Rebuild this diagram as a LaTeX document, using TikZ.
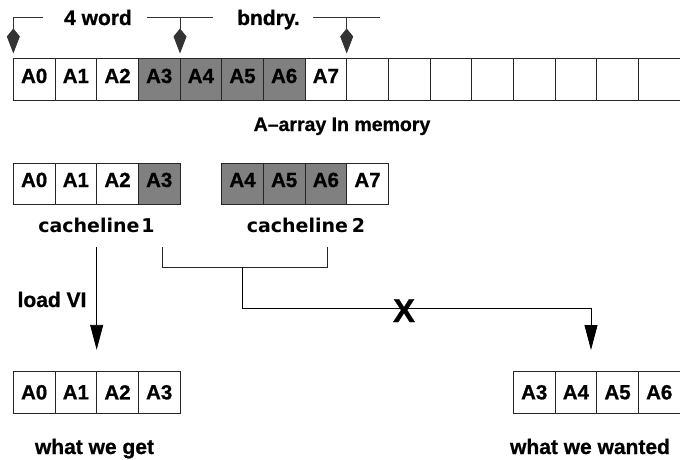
\documentclass[tikz,border=0pt]{standalone}
\usepackage{fontspec}
\setmainfont{Liberation Sans}[BoldFeatures={FakeBold=0.8}]
\newfontfamily\humfont{DejaVu Sans}
\newfontfamily\humboldfont{DejaVu Sans Bold}
\usetikzlibrary{arrows.meta}
\begin{document}
\begin{tikzpicture}[x=1pt,y=-1pt,
  cell/.style={draw=black!85, line width=0.9pt, minimum width=41.67pt, minimum height=42pt,
    inner sep=0pt, outer sep=0pt, font=\fontsize{20.5}{24}\bfseries},
  upcell/.style={cell, text height=15pt, text depth=8pt},
  graycell/.style={fill=gray},
  lbl/.style={font=\fontsize{21}{24}\bfseries, inner sep=0pt, anchor=base},
  hum/.style={font=\fontsize{19}{22}\humboldfont, inner sep=0pt, anchor=base},
  brk/.style={draw=black!80, line width=0.9pt},
  kite/.style={brk, -{Kite[length=25pt,width=13pt,inset=8pt]}},
  tri/.style={draw=black, line width=0.9pt, -{Triangle[length=25pt,width=13pt]}},
  conn/.style={draw=black!85, line width=0.9pt}]
\useasboundingbox (0,0) rectangle (680,460);
\fill[white] (0,0) rectangle (680,460);

% top array in memory
\foreach \i in {0,...,15}{
  \pgfmathsetmacro{\cx}{34.17+41.67*\i}
  \ifnum\i<8
    \ifnum\i>2 \ifnum\i<7
      \node[upcell,graycell] (m\i) at (\cx,79.5) {A\i};
    \else
      \node[upcell] (m\i) at (\cx,79.5) {A\i};
    \fi\else
      \node[upcell] (m\i) at (\cx,79.5) {A\i};
    \fi
  \else
    \node[upcell] (m\i) at (\cx,79.5) {};
  \fi
}

% boundary bracket
\node[lbl] (word) at (98,25) {4 word};
\node[lbl] (bnd) at (268.5,25) {bndry.};
\coordinate (t0) at (m0.north west |- 0,17);
\coordinate (t1) at (m3.north east |- 0,17);
\coordinate (t2) at (m7.north east |- 0,17);
\coordinate (l0) at (43,17);
\coordinate (l1a) at (147,17);
\coordinate (l1b) at (213,17);
\coordinate (l2a) at (313,17);
\coordinate (l2b) at (380,17);
\draw[brk] (l0) -- (t0);
\draw[brk] (l1a) -- (l1b);
\draw[brk] (l2a) -- (l2b);
\draw[kite] (t0) -- ([yshift=5pt]m0.north west);
\draw[kite] (t1) -- ([yshift=5pt]m3.north east);
\draw[kite] (t2) -- ([yshift=5pt]m7.north east);

\node[lbl,font=\fontsize{19.5}{22}\bfseries] (arr) at (342,131) {A--array In memory};

% cache lines
\foreach \i in {0,...,3}{
  \pgfmathsetmacro{\cx}{34.17+41.67*\i}
  \ifnum\i=3
    \node[upcell,graycell,minimum height=41pt] (c\i) at (\cx,183.5) {A\i};
  \else
    \node[upcell,minimum height=41pt] (c\i) at (\cx,183.5) {A\i};
  \fi
}
\foreach \i in {4,...,7}{
  \pgfmathsetmacro{\cx}{34.17+41.67*(\i+1)}
  \ifnum\i=7
    \node[upcell,minimum height=41pt] (d\i) at (\cx,183.5) {A\i};
  \else
    \node[upcell,graycell,minimum height=41pt] (d\i) at (\cx,183.5) {A\i};
  \fi
}
\node[hum] (cl1) at (96.5,232) {cacheline\kern2pt 1};
\node[hum] (cl2) at (306,232) {cacheline\kern4pt 2};

% what we get
\foreach \i in {0,...,3}{
  \pgfmathsetmacro{\cx}{34.17+41.67*\i}
  \node[cell] (g\i) at (\cx,392.3) {A\i};
}
\node[lbl] (get) at (94.5,454) {what we get};

% what we wanted
\foreach \j [count=\k from 0] in {3,...,6}{
  \pgfmathsetmacro{\cx}{34.17+41.67*(\k+12)}
  \node[cell] (w\k) at (\cx,392.3) {A\j};
}
\node[lbl] (want) at (590,454) {what we wanted};

% load connector
\coordinate (s1) at (c1.south east |- 0,247);
\draw[tri] (s1) -- ([yshift=21.5pt]g1.north east);
\node[lbl] (load) at (52,307) {load VI};

% misaligned connector
\coordinate (b1) at (162,247);
\coordinate (b2) at (162,267);
\coordinate (b3) at (327,267);
\coordinate (b4) at (327,247);
\coordinate (bm) at (242,267);
\coordinate (bk) at (242,308);
\coordinate (bt) at (591,308);
\coordinate (be) at (591,350);
\draw[conn] (b1) -- (b2) -- (b3) -- (b4);
\draw[tri] (bm) -- (bk) -- (bt) -- (be);
\node[lbl,font=\fontsize{33}{36}\bfseries] (x) at (404,322) {X};
\end{tikzpicture}
\end{document}
